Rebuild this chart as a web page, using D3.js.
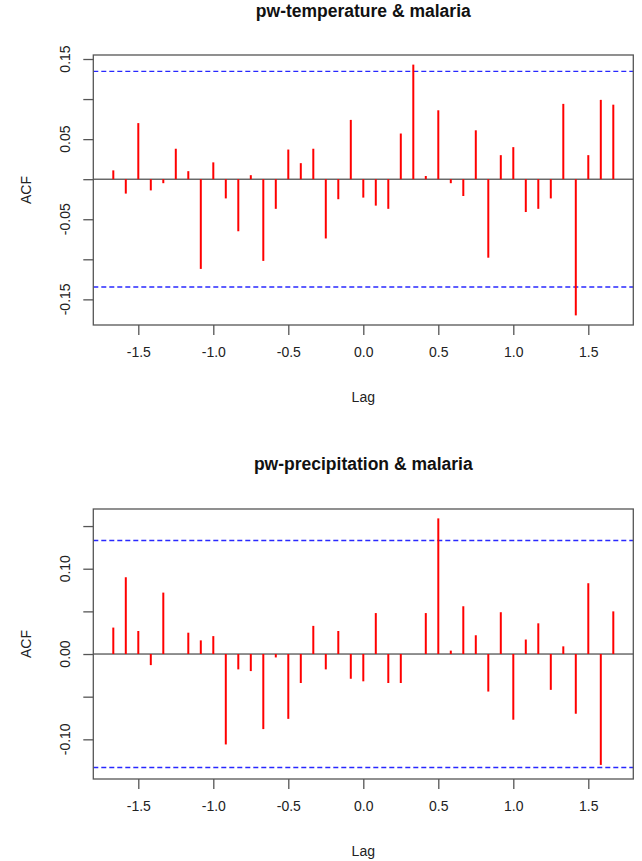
<!DOCTYPE html>
<html>
<head>
<meta charset="utf-8">
<script src="https://cdn.jsdelivr.net/npm/d3@7"></script>
<style>
body { margin: 0; background: white; }
text { font-family: "Liberation Sans", Arial, sans-serif; }
</style>
</head>
<body>
<script>
// lags -20..20 months, in years
var lags = d3.range(-20, 21).map(function(k){ return k / 12; });

var tempAcf = [0.011, -0.018, 0.070, -0.014, -0.005, 0.038, 0.010, -0.112, 0.021, -0.024,
  -0.065, 0.005, -0.102, -0.037, 0.037, 0.020, 0.038, -0.074, -0.025, 0.074,
  -0.023, -0.033, -0.037, 0.057, 0.143, 0.004, 0.086, -0.005, -0.021, 0.061,
  -0.098, 0.030, 0.040, -0.041, -0.037, -0.024, 0.094, -0.170, 0.030, 0.099, 0.093];

var precAcf = [0.031, 0.090, 0.027, -0.013, 0.072, 0.000, 0.025, 0.016, 0.021, -0.106,
  -0.018, -0.020, -0.088, -0.004, -0.076, -0.034, 0.033, -0.018, 0.027, -0.029,
  -0.032, 0.048, -0.034, -0.034, 0.000, 0.048, 0.159, 0.004, 0.056, 0.022,
  -0.044, 0.049, -0.077, 0.017, 0.036, -0.042, 0.009, -0.070, 0.083, -0.130, 0.050];

var titles = ["pw-temperature & malaria", "pw-precipitation & malaria"];
var ciLimits = [0.1345, 0.133];
var lagTicks = [-1.5, -1.0, -0.5, 0.0, 0.5, 1.0, 1.5];
var tempTicks = [0.15, 0.10, 0.05, 0.00, -0.05, -0.10, -0.15];
var tempLabels = ["0.15", "", "0.05", "", "-0.05", "", "-0.15"];
var precTicks = [0.15, 0.10, 0.05, 0.00, -0.05, -0.10];
var precLabels = ["", "0.10", "", "0.00", "", "-0.10"];

var svg = d3.select('body').append('svg').attr('width', 642).attr('height', 861);

var panels = [
  {top: 55, bottom: 325, ydom: [-0.182, 0.155], vals: tempAcf, ticks: tempTicks, labels: tempLabels, titleY: 17},
  {top: 509, bottom: 779, ydom: [-0.1465, 0.170], vals: precAcf, ticks: precTicks, labels: precLabels, titleY: 470}
];

var left = 93.3, right = 633.3;
var x = d3.scaleLinear().domain([-1.8, 1.8]).range([left, right]);

panels.forEach(function(p, i){
  var y = d3.scaleLinear().domain(p.ydom).range([p.bottom, p.top]);
  var g = svg.append('g');

  g.append('text')
    .attr('x', x(0)).attr('y', p.titleY)
    .attr('text-anchor', 'middle')
    .attr('font-size', 17.5).attr('font-weight', 'bold')
    .attr('fill', '#111')
    .text(titles[i]);

  // confidence limits
  [ciLimits[i], -ciLimits[i]].forEach(function(c){
    g.append('line')
      .attr('class', 'ci')
      .attr('x1', left).attr('x2', right)
      .attr('y1', y(c)).attr('y2', y(c))
      .style('stroke', 'rgb(40,40,255)').style('stroke-width', '1.4px')
      .style('stroke-dasharray', '5,3');
  });

  g.append('line')
    .attr('x1', left).attr('x2', right)
    .attr('y1', y(0)).attr('y2', y(0))
    .attr('stroke', '#222').attr('stroke-width', 1);

  g.selectAll('line.bar')
    .data(p.vals)
    .enter().append('line')
      .attr('class', 'bar')
      .attr('x1', function(d, k){ return x(lags[k]); })
      .attr('x2', function(d, k){ return x(lags[k]); })
      .attr('y1', y(0))
      .attr('y2', function(d){ return y(d); })
      .attr('stroke', '#ff0000').attr('stroke-width', 2);

  g.append('rect')
    .attr('x', left).attr('y', p.top)
    .attr('width', right - left).attr('height', p.bottom - p.top)
    .attr('fill', 'none').attr('stroke', '#555').attr('stroke-width', 1.3);

  // x axis
  var xa = g.append('g').attr('transform', 'translate(0,' + p.bottom + ')')
    .call(d3.axisBottom(x).tickValues(lagTicks).tickSize(10).tickPadding(12)
      .tickFormat(function(d){ return d.toFixed(1); }).tickSizeOuter(0));
  xa.select('.domain').remove();
  xa.selectAll('line').attr('stroke', '#555').attr('stroke-width', 1.3);
  xa.selectAll('text').attr('font-size', 14).attr('fill', '#222')
    .attr('font-family', '"Liberation Sans", Arial, sans-serif');

  // y axis
  var ya = g.append('g').attr('transform', 'translate(' + left + ',0)')
    .call(d3.axisLeft(y).tickValues(p.ticks).tickSize(10)
      .tickFormat(function(d, k){ return p.labels[k]; }).tickSizeOuter(0));
  ya.select('.domain').remove();
  ya.selectAll('line').attr('stroke', '#555').attr('stroke-width', 1.3);
  ya.selectAll('text').remove();
  g.selectAll('text.ylab')
    .data(p.ticks)
    .enter().append('text')
      .attr('class', 'ylab')
      .attr('transform', function(d){ return 'translate(70,' + y(d) + ') rotate(-90)'; })
      .attr('text-anchor', 'middle')
      .attr('font-size', 14).attr('fill', '#222')
      .text(function(d, k){ return p.labels[k]; });

  g.append('text')
    .attr('x', x(0)).attr('y', p.bottom + 77)
    .attr('text-anchor', 'middle')
    .attr('font-size', 14).attr('fill', '#222')
    .text('Lag');

  g.append('text')
    .attr('transform', 'translate(31,' + (p.top + p.bottom) / 2 + ') rotate(-90)')
    .attr('text-anchor', 'middle')
    .attr('font-size', 14).attr('fill', '#222')
    .text('ACF');
});
</script>
</body>
</html>
